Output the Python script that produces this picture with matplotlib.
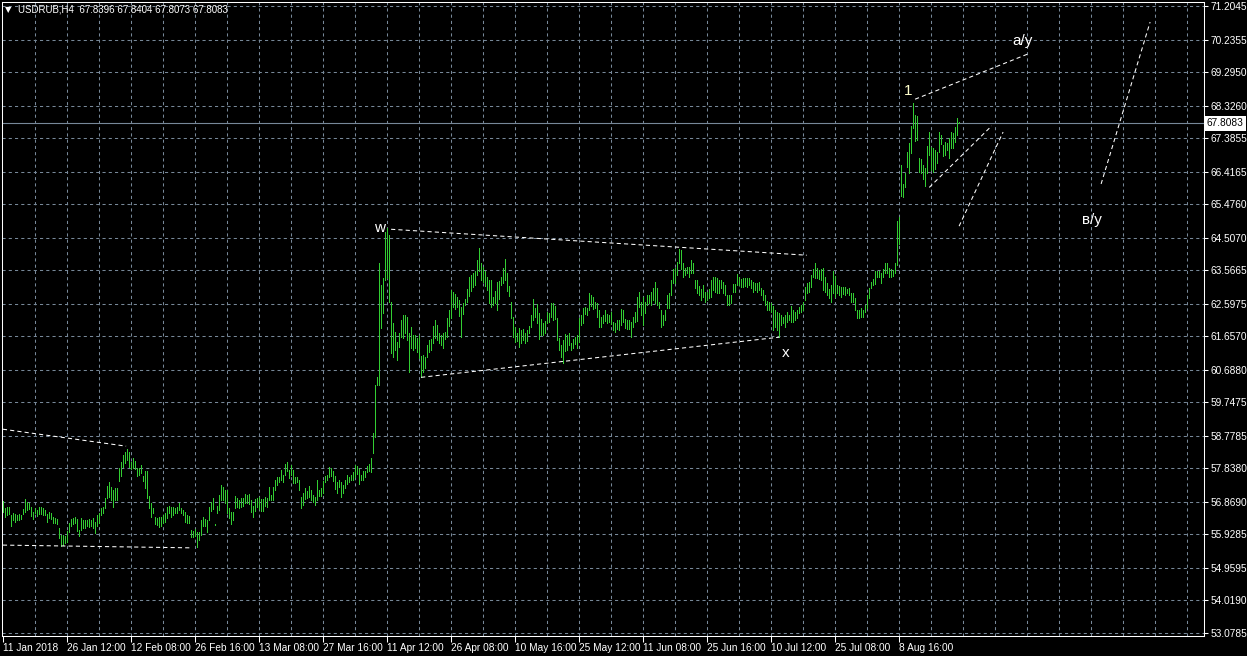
import numpy as np
import matplotlib
matplotlib.use("Agg")
import matplotlib.pyplot as plt

matplotlib.rcParams["font.family"] = ["Liberation Sans", "DejaVu Sans"]

# bar highs / lows of USDRUB H4 (oldest first)
high = [
    56.90, 56.69, 56.71, 56.71, 56.49, 56.54, 56.52, 56.49, 56.51, 56.49,
    56.66, 56.95, 56.88, 56.83, 56.71, 56.57, 56.69, 56.64, 56.71, 56.71,
    56.68, 56.64, 56.52, 56.59, 56.56, 56.44, 56.40, 56.37, 56.11, 55.91,
    55.91, 55.87, 56.04, 56.25, 56.37, 56.40, 56.44, 56.37, 56.06, 56.40,
    56.35, 56.35, 56.35, 56.37, 56.35, 56.40, 56.30, 56.49, 56.54, 56.69,
    56.71, 56.97, 57.33, 57.43, 57.31, 57.22, 57.26, 57.26, 57.84, 58.03,
    58.23, 58.30, 58.39, 58.32, 58.03, 58.13, 58.06, 57.84, 57.84, 57.94,
    57.62, 57.75, 57.75, 57.04, 56.83, 56.69, 56.44, 56.40, 56.44, 56.44,
    56.49, 56.54, 56.71, 56.75, 56.71, 56.71, 56.69, 56.73, 56.83, 56.69,
    56.64, 56.59, 56.49, 56.46, 56.06, 56.04, 56.08, 56.01, 56.01, 56.35,
    56.44, 56.37, 56.35, 56.71, 56.88, 56.97, 56.24, 56.75, 57.07, 57.36,
    57.31, 57.20, 57.22, 56.69, 56.59, 56.59, 57.04, 56.97, 56.93,
    56.97, 56.97, 57.10, 57.07, 57.10, 56.93, 56.75, 56.95, 56.97, 57.00,
    56.95, 56.95, 57.00, 56.97, 57.31, 57.07, 57.31, 57.49, 57.60, 57.58,
    57.79, 57.65, 57.97, 58.01, 57.79, 57.94, 57.79, 57.58, 57.60, 57.49,
    57.00, 57.14, 57.26, 57.17, 57.33, 57.22, 57.07, 57.00, 57.50, 57.22,
    57.26, 57.46, 57.62, 57.65, 57.87, 57.84, 57.75, 57.62, 57.43, 57.49,
    57.43, 57.36, 57.50, 57.65, 57.60, 57.65, 57.72, 57.94, 57.91, 57.81,
    57.65, 57.77, 57.77, 57.91, 57.97, 58.13, 58.85,
    60.25, 60.49,
    63.77, 63.14, 63.33, 64.68, 64.78, 64.59, 62.66, 62.03, 61.79, 61.50,
    61.74, 62.13, 62.27, 62.27, 62.22, 61.74, 61.93, 61.69, 61.69, 61.60,
    61.69, 61.09, 61.12, 61.07, 61.40, 61.55, 61.57, 61.95, 62.13, 61.98,
    61.74, 61.69, 61.74, 61.79, 62.18, 62.42, 62.99, 62.95, 62.88, 62.80,
    62.70, 62.51, 62.61, 62.72, 63.01, 63.36, 63.43, 63.48, 63.53, 63.86,
    64.20, 63.77, 63.67, 63.53, 63.36, 63.28, 63.28, 62.78, 62.97, 63.24,
    63.26, 63.36, 63.62, 63.88, 63.48, 63.11, 62.66, 62.22, 61.93, 61.74,
    61.89, 61.84, 61.86, 61.76, 61.84, 61.95, 62.27, 62.72, 62.47, 62.59,
    62.32, 62.15, 62.03, 62.11, 62.37, 62.34, 62.63, 62.63, 62.53, 62.18,
    61.60, 61.40, 61.55, 61.72, 61.69, 61.74, 61.47, 61.57, 61.63, 61.69,
    62.18, 62.27, 62.47, 62.49, 62.47, 62.92, 62.85, 62.80, 62.66, 62.61,
    62.43, 62.22, 62.27, 62.42, 62.30, 62.27, 62.37, 62.08, 62.03, 62.13,
    62.13, 62.44, 62.42, 62.15, 62.13, 62.13, 62.08, 62.22, 62.37, 62.78, 62.95,
    62.66, 62.80, 62.66, 62.85, 62.85, 62.95, 63.04, 63.24, 63.04, 62.66,
    62.42, 62.27, 62.42, 62.85, 62.90, 63.28, 63.59, 63.62, 63.79, 64.17,
    64.15, 63.77, 63.62, 63.65, 63.67, 63.86, 63.77, 63.28, 63.28, 63.11,
    63.01, 63.14, 62.95, 62.95, 63.01, 63.28, 63.38, 63.38, 63.33, 63.28,
    63.28, 63.24, 63.14, 62.85, 62.85, 62.85, 63.17, 63.17, 63.46, 63.38,
    63.30, 63.33, 63.33, 63.33, 63.33, 63.28, 63.24, 63.19, 63.21, 63.24,
    63.04, 62.99, 62.85, 62.69, 62.66, 62.63, 62.53, 62.42, 62.37, 62.32,
    62.27, 62.22, 62.27, 62.37, 62.27, 62.53, 62.42, 62.37, 62.42, 62.51,
    62.56, 62.66, 63.09, 63.19, 63.24, 63.43, 63.59, 63.77, 63.62, 63.57,
    63.59, 63.62, 63.38, 63.19, 63.01, 63.14, 63.53, 63.40, 63.14, 63.11,
    63.07, 63.09, 63.07, 63.01, 63.04, 62.92, 62.90, 62.75, 62.42, 62.42,
    62.46, 62.42, 62.56, 62.85, 63.04, 63.24, 63.30, 63.55, 63.55, 63.53,
    63.48, 63.59, 63.77, 63.77, 63.62, 63.59, 63.57, 63.77,
    65.00, 65.11, 66.61, 66.06, 66.37, 66.99, 67.24, 67.74, 68.41, 68.06,
    68.03, 66.80, 66.77, 66.61, 66.51, 67.16, 67.57, 67.14, 67.09, 67.04,
    66.99, 67.57, 67.48, 67.19, 67.26, 67.24, 67.38, 67.57, 67.53, 67.72,
    67.96, 67.84,
]
low = [
    56.59, 56.44, 56.49, 56.51, 56.17, 56.35, 56.30, 56.35, 56.35, 56.37,
    56.51, 56.59, 56.64, 56.66, 56.46, 56.37, 56.54, 56.46, 56.51, 56.51,
    56.49, 56.49, 56.30, 56.40, 56.37, 56.25, 56.25, 56.23, 55.82, 55.58,
    55.63, 55.67, 55.72, 56.01, 56.16, 56.23, 56.25, 56.04, 55.87, 56.06,
    56.11, 56.11, 56.16, 56.14, 56.16, 56.11, 55.96, 56.16, 56.25, 56.49,
    56.54, 56.69, 56.97, 57.02, 56.93, 56.71, 56.93, 56.91, 57.48, 57.62,
    57.89, 57.99, 58.08, 57.87, 57.81, 57.84, 57.81, 57.62, 57.65, 57.70,
    57.46, 57.26, 56.97, 56.69, 56.44, 56.54, 56.23, 56.20, 56.14, 56.17,
    56.25, 56.30, 56.40, 56.54, 56.44, 56.49, 56.54, 56.54, 56.64, 56.54,
    56.49, 56.30, 56.25, 56.25, 55.85, 55.85, 55.87, 55.56, 55.77, 55.91,
    56.16, 56.17, 56.01, 56.35, 56.62, 56.66, 56.21, 56.54, 56.64, 56.91,
    56.93, 56.83, 56.54, 56.40, 56.23, 56.35, 56.69, 56.71, 56.69,
    56.71, 56.75, 56.83, 56.83, 56.81, 56.59, 56.44, 56.62, 56.71, 56.66,
    56.62, 56.62, 56.75, 56.71, 56.93, 56.91, 56.93, 57.20, 57.36, 57.43,
    57.50, 57.43, 57.65, 57.77, 57.55, 57.65, 57.41, 57.41, 57.43, 57.20,
    56.69, 56.78, 56.95, 56.97, 57.02, 56.93, 56.88, 56.78, 56.91, 57.04,
    57.04, 57.14, 57.43, 57.49, 57.60, 57.62, 57.46, 57.24, 57.14, 57.31,
    57.00, 57.14, 57.26, 57.39, 57.43, 57.49, 57.50, 57.58, 57.68, 57.39,
    57.50, 57.49, 57.58, 57.72, 57.75, 57.72, 58.28,
    58.74, 60.25,
    60.25, 61.89, 62.32, 63.28, 63.33, 62.66, 61.16, 61.07, 61.26, 60.97,
    61.36, 61.65, 61.60, 61.74, 61.55, 60.63, 61.31, 61.26, 61.31, 61.21,
    61.02, 60.49, 60.63, 60.73, 61.07, 61.21, 61.26, 61.45, 61.60, 61.55,
    61.45, 61.40, 61.31, 61.57, 61.63, 61.95, 62.18, 62.51, 62.44, 62.49,
    62.24, 61.65, 62.30, 62.56, 62.66, 62.82, 62.97, 63.09, 63.14, 63.43,
    63.53, 63.28, 63.24, 63.11, 62.99, 62.63, 62.49, 62.56, 62.61, 62.42,
    62.72, 63.14, 63.21, 63.28, 62.97, 62.82, 62.18, 61.65, 61.50, 61.53,
    61.36, 61.45, 61.55, 61.47, 61.53, 61.74, 61.93, 62.13, 62.22, 62.03,
    61.57, 61.69, 61.69, 61.76, 62.03, 62.08, 62.20, 62.13, 62.15, 61.55,
    61.26, 61.07, 60.89, 61.24, 61.26, 61.40, 61.26, 61.31, 61.43, 61.31,
    61.50, 61.98, 62.03, 62.30, 62.27, 62.42, 62.53, 62.44, 62.47, 62.20,
    61.93, 61.93, 62.05, 62.11, 62.05, 62.08, 62.01, 61.84, 61.79, 61.86,
    61.84, 61.98, 62.08, 61.89, 61.86, 61.86, 61.65, 61.93, 62.08, 62.11, 62.51,
    62.27, 61.98, 62.32, 62.56, 62.61, 62.56, 62.71, 62.61, 62.56, 62.46,
    61.93, 61.98, 62.13, 62.46, 62.46, 62.85, 63.19, 63.19, 63.43, 63.77,
    63.59, 63.38, 63.43, 63.48, 63.38, 63.48, 63.48, 63.04, 62.90, 62.85,
    62.71, 62.80, 62.66, 62.71, 62.75, 62.80, 62.99, 62.95, 62.90, 62.90,
    63.04, 62.90, 62.85, 62.56, 62.56, 62.61, 62.95, 62.95, 63.14, 63.14,
    63.09, 63.09, 63.11, 63.09, 63.14, 63.04, 62.95, 62.99, 62.95, 62.99,
    62.85, 62.71, 62.56, 62.42, 62.42, 62.37, 61.84, 61.93, 61.84, 61.63,
    61.98, 62.05, 61.93, 62.08, 62.13, 62.08, 62.08, 62.13, 62.18, 62.32,
    62.37, 62.42, 62.71, 62.90, 62.95, 63.09, 63.38, 63.33, 63.33, 63.30,
    63.28, 62.99, 62.95, 62.85, 62.75, 62.66, 62.90, 62.80, 62.90, 62.85,
    62.80, 62.88, 62.85, 62.90, 62.85, 62.66, 62.66, 62.42, 62.18, 62.18,
    62.22, 62.20, 62.37, 62.46, 62.75, 63.04, 63.14, 63.17, 63.38, 63.38,
    63.21, 63.38, 63.48, 63.48, 63.38, 63.38, 63.40, 63.48,
    63.72, 64.32, 65.71, 65.68, 65.96, 66.56, 66.39, 66.95, 67.67, 67.29,
    67.33, 66.42, 66.37, 66.20, 66.00, 66.39, 66.90, 66.47, 66.42, 66.49,
    66.68, 66.97, 67.22, 66.87, 66.90, 67.04, 66.80, 67.09, 67.09, 67.26,
    67.48, 67.81,
]
assert len(high) == len(low)

last_ohlc = [67.8396, 67.8404, 67.8073, 67.8083]

price_ticks = [71.2045, 70.2355, 69.2950, 68.3260, 67.3855, 66.4165, 65.4760,
               64.5070, 63.5665, 62.5975, 61.6570, 60.6880, 59.7475, 58.7785,
               57.8380, 56.8690, 55.9285, 54.9595, 54.0190, 53.0785]

date_labels = ["11 Jan 2018", "26 Jan 12:00", "12 Feb 08:00", "26 Feb 16:00",
               "13 Mar 08:00", "27 Mar 16:00", "11 Apr 12:00", "26 Apr 08:00",
               "10 May 16:00", "25 May 12:00", "11 Jun 08:00", "25 Jun 16:00",
               "10 Jul 12:00", "25 Jul 08:00", "8 Aug 16:00"]

# dashed trend lines: (bar, price) -> (bar, price)
trend_lines = [
    ((-0.2, 58.97), (61.4, 58.48)),
    ((-0.2, 55.62), (94.4, 55.54)),
    ((193.9, 64.75), (401.7, 64.00)),
    ((208.9, 60.47), (388.0, 61.63)),
    ((455.9, 68.51), (512.4, 69.82)),
    ((463.0, 65.96), (494.2, 67.74)),
    ((477.9, 64.84), (499.9, 67.56)),
    ((548.9, 66.06), (573.4, 70.74)),
]

wave_labels = [("w", 187.9, 64.79), ("x", 391.4, 61.17), ("1", 452.4, 68.75),
               ("a/y", 509.4, 70.19), ("в/y", 544.4, 65.02)]

bar_color = "#32cd32"
grid_color = "#778899"

fig = plt.figure(figsize=(12.47, 6.56), dpi=100)
fig.patch.set_facecolor("black")
ax = fig.add_axes([2 / 1247, 20 / 656, 1202 / 1247, 634 / 656])
ax.set_facecolor("black")

x = np.arange(len(high))
ax.set_xlim(-0.65, 600.35)
ax.set_ylim(52.992, 71.320)

# grid
for p in price_ticks:
    ax.axhline(p, color=grid_color, lw=0.75, ls=(0, (3, 3)), zorder=0)
for i in range(16, 600, 16):
    ax.axvline(i, color=grid_color, lw=0.75, ls=(0, (3, 3)), zorder=0)

# bars
ax.vlines(x, low, high, color=bar_color, lw=0.5, antialiased=False, zorder=2)

# current price line
ax.axhline(last_ohlc[3], color=grid_color, lw=0.8, zorder=1)

# trend lines
for (x0, y0), (x1, y1) in trend_lines:
    ax.plot([x0, x1], [y0, y1], color="white", lw=0.75, ls=(0, (4, 3)), zorder=3)

for txt, bx, py in wave_labels:
    c = "#ffffcc" if txt == "1" else "white"
    ax.text(bx, py, txt, color=c, fontsize=11, ha="center", va="center", zorder=4)

# axes
for s in ax.spines.values():
    s.set_color("white")
    s.set_linewidth(0.75)

ax.yaxis.tick_right()
ax.set_yticks(price_ticks)
ax.set_yticklabels(["%.4f" % p for p in price_ticks])
ax.set_xticks(range(0, 32 * len(date_labels), 32))
ax.set_xticklabels(date_labels)
for lab in ax.get_xticklabels():
    lab.set_horizontalalignment("left")
ax.tick_params(axis="y", colors="white", labelsize=7.3, length=3, width=0.75, pad=2)
ax.tick_params(axis="x", colors="white", labelsize=7.3, length=4, width=0.75, pad=1)

ax.annotate("%.4f" % last_ohlc[3], xy=(1, last_ohlc[3]),
            xycoords=("axes fraction", "data"), xytext=(2, 0),
            textcoords="offset points", ha="left", va="center", fontsize=7.3,
            color="black", annotation_clip=False,
            bbox=dict(boxstyle="square,pad=0.25", fc="white", ec="none"))

fig.text(5 / 1247, 1 - 10 / 656, "▼", fontsize=6, color="white",
         family="DejaVu Sans", va="center")
fig.text(18 / 1247, 1 - 10 / 656,
         "USDRUB,H4  " + " ".join("%.4f" % v for v in last_ohlc),
         fontsize=7, color="white", va="center")

fig.savefig("out.png", dpi=100, facecolor="black")
